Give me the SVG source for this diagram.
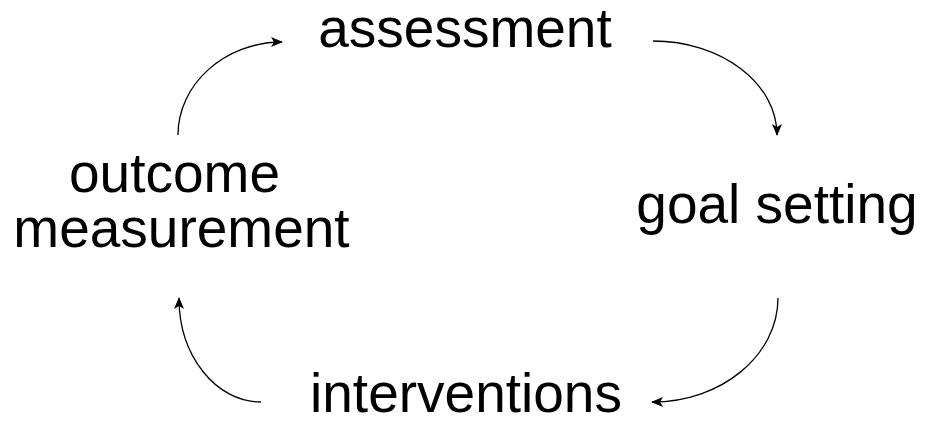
<svg xmlns="http://www.w3.org/2000/svg" width="926" height="430" viewBox="0 0 926 430">
<style>
.lbl{font-family:"Liberation Sans",Arial,sans-serif;font-size:55px;fill:#000;text-anchor:middle}
.arc{fill:none;stroke:#000;stroke-width:1.3}
</style>
<defs>
<marker id="ah" markerUnits="userSpaceOnUse" markerWidth="12" markerHeight="10" viewBox="0 0 12 10" refX="11" refY="5" orient="auto">
<path d="M0,0 L12,5 L0,10 L3,5 Z" fill="#000"/>
</marker>
</defs>
<rect width="926" height="430" fill="#fff"/>
<g id="connectors">
<path class="arc" d="M178,135 C178,84 225,42 282,42" marker-end="url(#ah)"/>
<path class="arc" d="M653,41 C721,41 777,83 777,135" marker-end="url(#ah)"/>
<path class="arc" d="M778,298 C778,355 722,402 652,402" marker-end="url(#ah)"/>
<path class="arc" d="M261,402 C216,402 179,356 179,298" marker-end="url(#ah)"/>
</g>
<g id="assessment"><text class="lbl" x="465" y="47">assessment</text></g>
<g id="goal-setting"><text class="lbl" x="777" y="223">goal setting</text></g>
<g id="interventions"><text class="lbl" x="466" y="412">interventions</text></g>
<g id="outcome-measurement"><text class="lbl" x="174.5" y="192">outcome</text><text class="lbl" x="181.5" y="247">measurement</text></g>
</svg>
